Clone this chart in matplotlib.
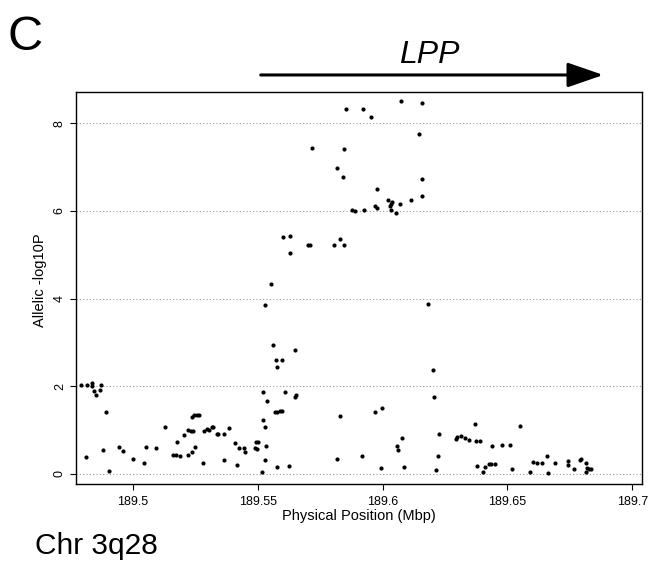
import matplotlib
matplotlib.use('Agg')
import matplotlib.pyplot as plt

plt.rcParams['font.family'] = ['Liberation Sans', 'DejaVu Sans']

# SNP positions (Mbp) and allelic -log10 P
pos_mbp = [
    189.4792, 189.4817, 189.4837, 189.4836, 189.4845, 189.4851, 189.4868, 189.4873,
    189.4893, 189.4879, 189.4811, 189.4903, 189.4945, 189.4961, 189.4999, 189.5044,
    189.5052, 189.5093, 189.5129, 189.5159, 189.5175, 189.5173, 189.5188, 189.5204,
    189.5220, 189.5221, 189.5231, 189.5239, 189.5237, 189.5236, 189.5245, 189.5255,
    189.5264, 189.5249, 189.5279, 189.5284, 189.5297, 189.5305, 189.5316, 189.5321,
    189.5335, 189.5341, 189.5363, 189.5365, 189.5385, 189.5408, 189.5415, 189.5424,
    189.5444, 189.5449, 189.5492, 189.5501, 189.5489, 189.5497, 189.5516, 189.5521,
    189.5529, 189.5535, 189.5529, 189.5539, 189.5569, 189.5577, 189.5579, 189.5588,
    189.5597, 189.5625, 189.5555, 189.5531, 189.5560, 189.5572, 189.5596, 189.5579,
    189.5649, 189.5521, 189.5611, 189.5649, 189.5655, 189.5828, 189.5819, 189.5916,
    189.5969, 189.5996, 189.5992, 189.6076, 189.6059, 189.6063, 189.6087, 189.6183,
    189.6200, 189.6207, 189.6228, 189.6221, 189.6215, 189.5855, 189.5923, 189.5952,
    189.6075, 189.6156, 189.6147, 189.5719, 189.5844, 189.5819, 189.5843, 189.6159,
    189.6159, 189.5976, 189.6020, 189.6036, 189.6035, 189.6031, 189.6033, 189.6053,
    189.6069, 189.6112, 189.5969, 189.5976, 189.5877, 189.5888, 189.5924, 189.5603,
    189.5628, 189.5628, 189.5701, 189.5711, 189.5805, 189.5828, 189.5844, 189.6293,
    189.6297, 189.6316, 189.6332, 189.6345, 189.6369, 189.6375, 189.6389, 189.6377,
    189.6403, 189.6412, 189.6427, 189.6435, 189.6449, 189.6439, 189.6477, 189.6509,
    189.6517, 189.6551, 189.6589, 189.6603, 189.6619, 189.6639, 189.6659, 189.6661,
    189.6691, 189.6743, 189.6743, 189.6768, 189.6792, 189.6796, 189.6816, 189.6813,
    189.6819, 189.6828, 189.6833,
]
logp = [
    2.03, 2.03, 2.07, 2.01, 1.90, 1.80, 1.92, 2.02,
    1.42, 0.55, 0.38, 0.07, 0.62, 0.52, 0.34, 0.24,
    0.62, 0.59, 1.06, 0.43, 0.74, 0.43, 0.40, 0.88,
    0.44, 1.01, 0.99, 0.97, 0.50, 1.30, 1.35, 1.35,
    1.35, 0.62, 0.26, 0.97, 1.03, 1.00, 1.06, 1.07,
    0.92, 0.92, 0.91, 0.33, 1.05, 0.71, 0.21, 0.59,
    0.59, 0.50, 0.74, 0.74, 0.60, 0.58, 0.05, 1.23,
    1.07, 0.63, 0.32, 1.66, 1.42, 1.42, 0.15, 1.44,
    1.44, 0.18, 4.33, 3.85, 2.94, 2.60, 2.60, 2.44,
    2.82, 1.87, 1.88, 1.76, 1.79, 1.32, 0.35, 0.42,
    1.41, 1.51, 0.14, 0.81, 0.63, 0.54, 0.16, 3.87,
    2.37, 1.76, 0.91, 0.42, 0.08, 8.33, 8.33, 8.14,
    8.50, 8.47, 7.76, 7.44, 7.41, 6.98, 6.77, 6.73,
    6.33, 6.50, 6.24, 6.20, 6.15, 6.10, 6.01, 5.94,
    6.16, 6.24, 6.12, 6.07, 6.03, 6.00, 6.01, 5.40,
    5.43, 5.03, 5.21, 5.21, 5.21, 5.36, 5.21, 0.79,
    0.85, 0.86, 0.83, 0.78, 1.13, 0.76, 0.75, 0.19,
    0.04, 0.17, 0.23, 0.23, 0.23, 0.64, 0.66, 0.66,
    0.11, 1.10, 0.05, 0.27, 0.26, 0.26, 0.42, 0.02,
    0.25, 0.30, 0.20, 0.11, 0.31, 0.34, 0.25, 0.04,
    0.13, 0.11, 0.11,
]

x_ticks = [189.5, 189.55, 189.6, 189.65, 189.7]
x_tick_labels = ['189.5', '189.55', '189.6', '189.65', '189.7']
y_ticks = [0, 2, 4, 6, 8]

gene_name = 'LPP'
gene_start = 189.5512
gene_end = 189.6884

fig = plt.figure(figsize=(6.48, 5.65), dpi=100)
ax = fig.add_axes([0.1173, 0.1434, 0.873, 0.6938])

for yt in y_ticks:
    ax.axhline(yt, color='#999999', linestyle=(0, (1, 2)), linewidth=0.8, zorder=1)

ax.scatter(pos_mbp, logp, s=9, color='black', marker='o', linewidths=0, zorder=3)

ax.set_xlim(189.4772, 189.7038)
ax.set_ylim(-0.228, 8.71)

ax.set_xticks(x_ticks)
ax.set_xticklabels(x_tick_labels, fontsize=9)
ax.set_yticks(y_ticks)
ax.set_yticklabels([str(v) for v in y_ticks], fontsize=9, rotation=90, va='center')
ax.tick_params(axis='x', direction='out', length=4.3, width=0.8, pad=4)
ax.tick_params(axis='y', direction='out', length=4.3, width=0.8, pad=3)

for sp in ax.spines.values():
    sp.set_linewidth(1.0)

ax.set_xlabel('Physical Position (Mbp)', fontsize=10.5, labelpad=1)
ax.set_ylabel('Allelic -log10P', fontsize=10.5)
ax.yaxis.set_label_coords(-0.051, 0.52)

# gene arrow above the panel
trans = ax.get_xaxis_transform()
ax.annotate('', xy=(gene_end, 1.0434), xytext=(gene_start, 1.0434),
            xycoords=trans, textcoords=trans, annotation_clip=False,
            arrowprops=dict(arrowstyle='-|>,head_length=22,head_width=7.6',
                            mutation_scale=1, color='black', lw=2.2,
                            shrinkA=0, shrinkB=0))
ax.text(189.6188, 1.0748, gene_name, transform=trans, ha='center', va='baseline',
        fontsize=23, fontstyle='italic', clip_on=False)

fig.text(8 / 648, 0.9115, 'C', fontsize=35, ha='left', va='baseline')
fig.text(35 / 648, 0.0195, 'Chr 3q28', fontsize=21.5, ha='left', va='baseline')

fig.savefig('out.png', dpi=100)
